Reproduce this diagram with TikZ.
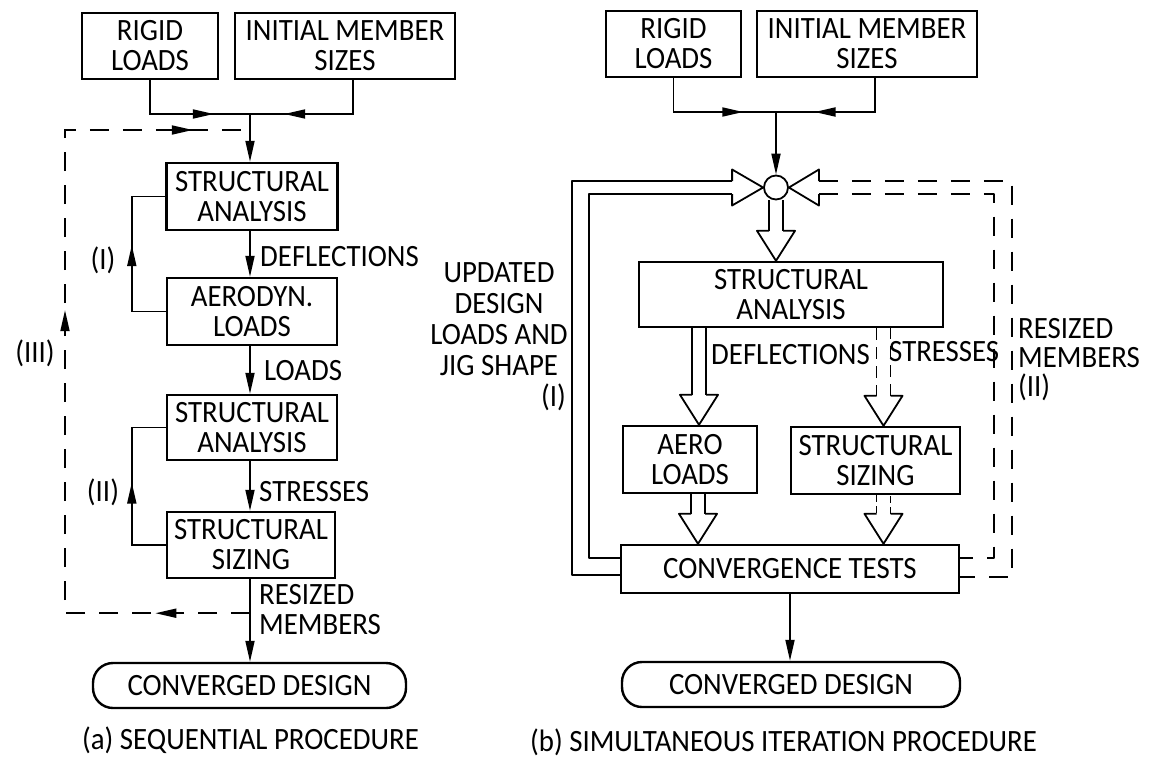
\documentclass[tikz,border=0pt]{standalone}
\usepackage{fontspec}
\setmainfont[FakeStretch=0.93]{Carlito}
\usetikzlibrary{arrows.meta,decorations.markings,calc}
\newcommand{\HDown}[3]{%
  \draw[hol,#1] let \p1=#2, \p2=#3 in (\x2-7pt,\y1) -- (\x2-7pt,\y2+30pt) (\x2+7pt,\y2+30pt) -- (\x2+7pt,\y1);
  \draw[hol] let \p1=#2, \p2=#3 in (\x2-7pt,\y2+30pt) -- (\x2-19pt,\y2+30pt) -- (\x2,\y2) -- (\x2+19pt,\y2+30pt) -- (\x2+7pt,\y2+30pt);}
\begin{document}
\begin{tikzpicture}[x=1pt,y=-1pt,
  every node/.style={font=\fontsize{31}{30}\selectfont, inner sep=0pt},
  blk/.style={draw, line width=2.4pt, align=center},
  conn/.style={line width=1.8pt},
  tip/.style={-{Triangle[length=21pt,width=9pt]}},
  hol/.style={line width=1.8pt, line join=round},
  dpat/.style={dash pattern=on 19pt off 14pt},
  midarrow/.style={postaction={decorate,decoration={markings,
     mark=at position #1 with {\arrow{Triangle[length=21pt,width=9pt]}}}}}
]
\useasboundingbox (0,0) rectangle (1151,758);

% ---------------- (a) sequential ----------------
\node[blk, minimum width=136pt, minimum height=66pt] (rl1) at (150,46) {RIGID\\LOADS};
\node[blk, minimum width=220pt, minimum height=66pt] (im1) at (345,46) {INITIAL MEMBER\\SIZES};
\node[blk, minimum width=171pt, minimum height=67pt] (sa1) at (252,196.5) {STRUCTURAL\\ANALYSIS};
\node[blk, minimum width=170pt, minimum height=67pt] (ae1) at (252,311.5) {AERODYN.\\LOADS};
\node[blk, minimum width=170pt, minimum height=65pt] (sa2) at (252,427.5) {STRUCTURAL\\ANALYSIS};
\node[blk, minimum width=168pt, minimum height=66pt] (sz1) at (251,545) {STRUCTURAL\\SIZING};
\node[blk, rounded corners=20pt, minimum width=313pt, minimum height=45pt] (cd1) at (249.5,685.5) {CONVERGED DESIGN};

\coordinate (j1) at (250,114);
\draw[conn, midarrow=0.73] (rl1.south) |- (j1);
\draw[conn, midarrow=0.75] ($(im1.south)+(8,0)$) |- (j1);
\draw[conn, tip] (j1) -- (j1 |- sa1.north);
\draw[conn, tip] (sa1.south -| j1) -- (ae1.north -| j1);
\draw[conn, tip] (ae1.south -| j1) -- (sa2.north -| j1);
\draw[conn, tip] (sa2.south -| j1) -- (sz1.north -| j1);
\draw[conn, tip] (sz1.south -| j1) -- (cd1.north -| j1);
\draw[conn, midarrow=0.55] (ae1.west) -- ++(-34,0) |- (sa1.west);
\draw[conn, midarrow=0.52] (sz1.west) -- ++(-34,0) |- (sa2.west);

\coordinate (d1) at ($(sz1.south -| j1)+(0,34)$);
\coordinate (d2) at ($(j1)+(0,16)$);
\draw[conn, dpat, postaction={decorate,decoration={markings,
   mark=at position 0.111 with {\arrow{Triangle[length=21pt,width=9pt]}},
   mark=at position 0.572 with {\arrow{Triangle[length=21pt,width=9pt]}},
   mark=at position 0.933 with {\arrow{Triangle[length=21pt,width=9pt]}}}}]
   (d1) -- ++(-185,0) |- (d2);

\node[anchor=west] (l1) at (260,257) {DEFLECTIONS};
\node[anchor=west] (l2) at (264,371) {LOADS};
\node[anchor=west] (l3) at (259,492) {STRESSES};
\node[anchor=west, align=left] (l4) at (259,610) {RESIZED\\MEMBERS};
\node (l5) at (103,260) {(I)};
\node (l6) at (103,492) {(II)};
\node (l7) at (35,353) {(III)};
\node[anchor=west] (cap1) at (82,740) {(a) SEQUENTIAL PROCEDURE};

% ---------------- (b) simultaneous ----------------
\node[blk, minimum width=135pt, minimum height=66pt] (rl2) at (673.5,44) {RIGID\\LOADS};
\node[blk, minimum width=220pt, minimum height=66pt] (im2) at (867,44) {INITIAL MEMBER\\SIZES};
\coordinate (j2) at (776,112);
\node[circle, draw, line width=1.8pt, minimum size=24pt] (c) at (776,187.5) {};
\node[blk, minimum width=304pt, minimum height=65pt] (sa3) at (791,294.5) {STRUCTURAL\\ANALYSIS};
\node[blk, minimum width=134pt, minimum height=67pt] (ae2) at (690,459.5) {AERO\\LOADS};
\node[blk, minimum width=169pt, minimum height=67pt] (sz2) at (875.5,460.5) {STRUCTURAL\\SIZING};
\node[blk, minimum width=338pt, minimum height=48pt] (ct) at (790,569) {CONVERGENCE TESTS};
\node[blk, rounded corners=20pt, minimum width=338pt, minimum height=45pt] (cd2) at (791,684.5) {CONVERGED DESIGN};

\draw[conn, midarrow=0.76] (rl2.south) |- (j2);
\draw[conn, midarrow=0.71] ($(im2.south)+(8,0)$) |- (j2);
\draw[conn, tip] (j2) -- (c.north);
\draw[conn, tip] (ct.south) -- (ct.south |- cd2.north);

\coordinate (dx) at ($(ae2.north)+(9,0)$);
\coordinate (sx) at ($(sz2.north)+(8,0)$);
\coordinate (ax) at ($(ae2.south)+(8,0)$);
\HDown{}{(c.south)}{(sa3.north -| c)}
\HDown{}{(sa3.south -| dx)}{(dx)}
\HDown{dash pattern=on 12pt off 7pt}{(sa3.south -| sx)}{(sx)}
\HDown{}{(ae2.south -| ax)}{(ct.north -| ax)}
\HDown{dash pattern=on 7pt off 4pt}{(sz2.south -| sx)}{(ct.north -| sx)}

% left (solid) double loop
\draw[hol] ($(c.west)+(-31,-6.5)$) -- ($(c.west)+(-31,-18)$) -- (c.west) -- ($(c.west)+(-31,18)$) -- ($(c.west)+(-31,6.5)$);
\draw[hol] ($(c.west)+(-31,-6.5)$) -| ($(ct.west)+(-48,6)$) -- ($(ct.west)+(0,6)$);
\draw[hol] ($(c.west)+(-31,6.5)$) -| ($(ct.west)+(-31,-11)$) -- ($(ct.west)+(0,-11)$);
% right (dashed) double loop
\draw[hol] ($(c.east)+(30,-6.5)$) -- ($(c.east)+(30,-18)$) -- (c.east) -- ($(c.east)+(30,18)$) -- ($(c.east)+(30,6.5)$);
\draw[hol, dpat] ($(c.east)+(30,-6.5)$) -| ($(ct.east)+(52,8)$) -- ($(ct.east)+(0,8)$);
\draw[hol, dpat] ($(c.east)+(30,6.5)$) -| ($(ct.east)+(34,-11)$) -- ($(ct.east)+(0,-11)$);

\node[align=center, font=\fontsize{31}{31}\selectfont] (upd) at (499,319) {UPDATED\\DESIGN\\LOADS AND\\JIG SHAPE};
\node[anchor=east] (u1) at (566,397) {(I)};
\node[anchor=west] (dfl) at (711,355) {DEFLECTIONS};
\node[anchor=west] (str) at (889,352) {STRESSES};
\node[anchor=west, align=left, font=\fontsize{31}{29}\selectfont] (rsz) at (1018,360) {RESIZED\\MEMBERS\\(II)};
\node[anchor=west] (cap2) at (530,742) {(b) SIMULTANEOUS ITERATION PROCEDURE};
\end{tikzpicture}
\end{document}
